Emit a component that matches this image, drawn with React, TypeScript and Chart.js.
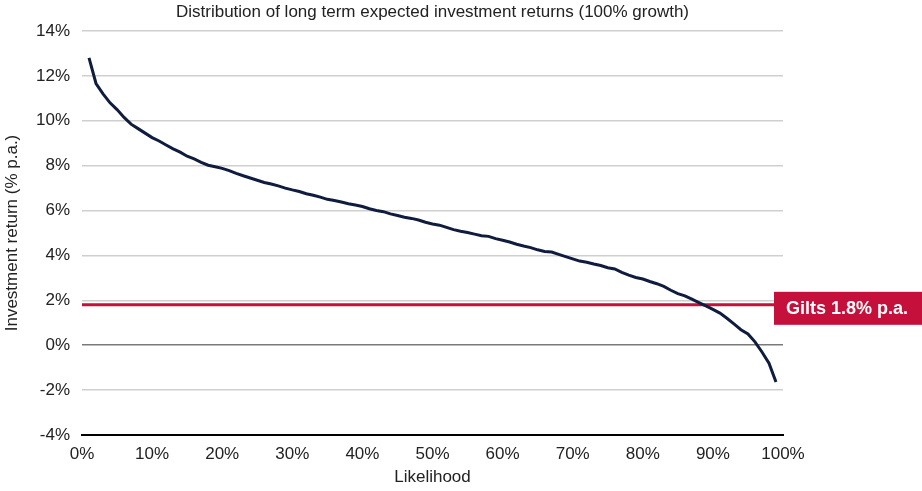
import React, { useEffect, useRef } from "react";
import { Chart, registerables } from "chart.js";

Chart.register(...registerables);

const likelihood = [
  1, 2, 3, 4, 5, 6, 7, 8, 9, 10, 11, 12, 13, 14, 15, 16, 17, 18, 19, 20,
  21, 22, 23, 24, 25, 26, 27, 28, 29, 30, 31, 32, 33, 34, 35, 36, 37, 38, 39, 40,
  41, 42, 43, 44, 45, 46, 47, 48, 49, 50, 51, 52, 53, 54, 55, 56, 57, 58, 59, 60,
  61, 62, 63, 64, 65, 66, 67, 68, 69, 70, 71, 72, 73, 74, 75, 76, 77, 78, 79, 80,
  81, 82, 83, 84, 85, 86, 87, 88, 89, 90, 91, 92, 93, 94, 95, 96, 97, 98, 99,
];

const expectedReturn = [
  12.8, 11.66, 11.2, 10.8, 10.5, 10.15, 9.85, 9.65, 9.45, 9.25,
  9.1, 8.92, 8.75, 8.6, 8.42, 8.3, 8.15, 8.02, 7.95, 7.88,
  7.78, 7.66, 7.55, 7.45, 7.35, 7.25, 7.18, 7.1, 7.0, 6.92,
  6.85, 6.75, 6.68, 6.6, 6.5, 6.45, 6.38, 6.3, 6.25, 6.18,
  6.08, 6.0, 5.95, 5.85, 5.78, 5.7, 5.65, 5.58, 5.48, 5.4,
  5.35, 5.25, 5.15, 5.08, 5.02, 4.95, 4.88, 4.85, 4.75, 4.68,
  4.6, 4.5, 4.42, 4.35, 4.25, 4.18, 4.15, 4.05, 3.95, 3.85,
  3.75, 3.7, 3.62, 3.55, 3.45, 3.4, 3.25, 3.12, 3.02, 2.95,
  2.84, 2.74, 2.62, 2.45, 2.3, 2.2, 2.05, 1.9, 1.75, 1.6,
  1.43, 1.2, 0.95, 0.69, 0.5, 0.15, -0.3, -0.8, -1.64,
];

const giltsRate = 1.8;
const giltsLabel = "Gilts 1.8% p.a.";
const giltsSpan = [0, 100];

const chartTitle = "Distribution of long term expected investment returns (100% growth)";
const xTitle = "Likelihood";
const yTitle = "Investment return (% p.a.)";

const FONT = "'Liberation Sans', Arial, sans-serif";

const giltsBoxPlugin = {
  id: "giltsBox",
  afterDatasetsDraw(chart: any) {
    const { ctx, chartArea, scales, width } = chart;
    const y = scales.y.getPixelForValue(giltsRate);
    const left = chartArea.right - 9;
    const top = y - 13;
    const h = 33;
    ctx.save();
    ctx.fillStyle = "#c5103c";
    ctx.fillRect(left, top, width - left, h);
    ctx.fillStyle = "#ffffff";
    ctx.font = `bold 18px ${FONT}`;
    ctx.textBaseline = "middle";
    ctx.textAlign = "left";
    ctx.fillText(giltsLabel, left + 12, top + h / 2 + 1);
    ctx.restore();
  },
};

export default function App() {
  const canvasRef = useRef<HTMLCanvasElement | null>(null);

  useEffect(() => {
    if (!canvasRef.current) return;
    const chart = new Chart(canvasRef.current, {
      type: "line",
      data: {
        datasets: [
          {
            label: "Expected return",
            data: likelihood.map((x, i) => ({ x, y: expectedReturn[i] })),
            borderColor: "#0f1c3d",
            borderWidth: 3,
            pointRadius: 0,
            tension: 0,
            order: 0,
          },
          {
            label: "Gilts",
            data: giltsSpan.map((x) => ({ x, y: giltsRate })),
            borderColor: "#c5103c",
            borderWidth: 3,
            pointRadius: 0,
            order: 1,
          },
        ],
      },
      options: {
        animation: false,
        responsive: true,
        maintainAspectRatio: false,
        layout: { padding: { left: 0, right: 139, top: 0, bottom: 0 } },
        plugins: {
          legend: { display: false },
          tooltip: { enabled: false },
          title: {
            display: true,
            text: chartTitle,
            fullSize: false,
            color: "#222222",
            font: { family: FONT, size: 17, weight: "normal" },
            padding: { top: 2, bottom: 8.6 },
          },
        },
        scales: {
          x: {
            type: "linear",
            min: 0,
            max: 100,
            ticks: {
              stepSize: 10,
              color: "#222222",
              font: { family: FONT, size: 17 },
              padding: 9,
              callback: (v: any) => `${v}%`,
            },
            grid: { display: false, drawTicks: false },
            border: { display: true, color: "#000000", width: 2 },
            title: {
              display: true,
              text: xTitle,
              color: "#222222",
              font: { family: FONT, size: 17 },
              padding: { top: 0, bottom: 3 },
            },
            afterFit: (scale: any) => {
              scale.height = 56;
            },
          },
          y: {
            min: -4,
            max: 14,
            ticks: {
              stepSize: 2,
              color: "#222222",
              font: { family: FONT, size: 17 },
              padding: 12,
              callback: (v: any) => `${v}%`,
            },
            grid: {
              drawTicks: false,
              lineWidth: 1.5,
              color: (c: any) =>
                c.tick && c.tick.value === 0
                  ? "#7a7a7a"
                  : c.tick && c.tick.value === -4
                  ? "rgba(0,0,0,0)"
                  : "#cfcfcf",
            },
            border: { display: false },
            title: {
              display: true,
              text: yTitle,
              color: "#222222",
              font: { family: FONT, size: 17 },
              padding: { top: 2, bottom: 0 },
            },
            afterFit: (scale: any) => {
              scale.width = 82;
            },
          },
        },
      },
      plugins: [giltsBoxPlugin],
    } as any);
    return () => chart.destroy();
  }, []);

  return (
    <div style={{ position: "absolute", left: 0, top: 0, width: 922, height: 491, background: "#ffffff" }}>
      <canvas ref={canvasRef} />
    </div>
  );
}
